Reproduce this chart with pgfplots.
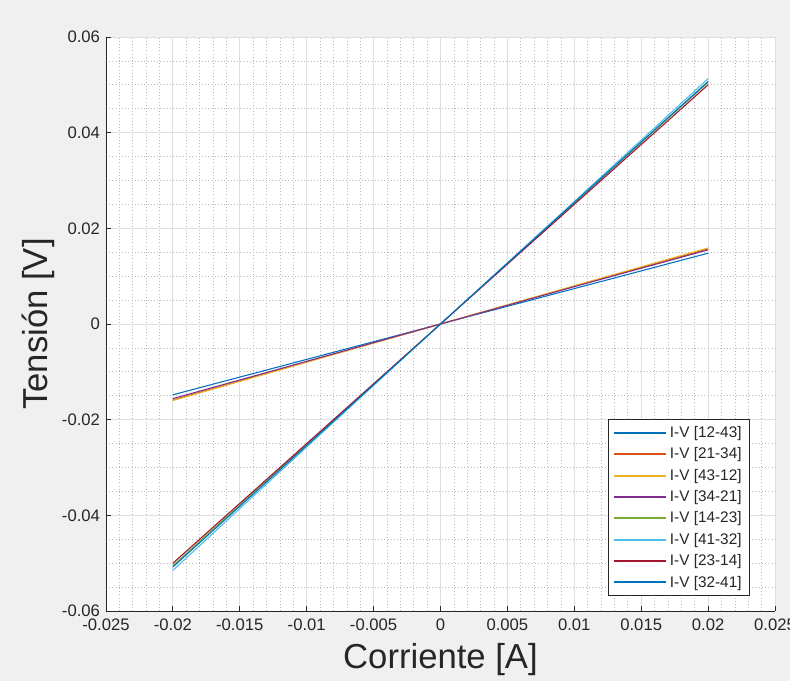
\documentclass[border=0pt]{standalone}
\usepackage{fontspec}
\setmainfont{Liberation Sans}
\usepackage{pgfplots}
\pgfplotsset{compat=1.18}

\definecolor{c1}{rgb}{0,0.447,0.741}
\definecolor{c2}{rgb}{0.85,0.325,0.098}
\definecolor{c3}{rgb}{0.929,0.694,0.125}
\definecolor{c4}{rgb}{0.494,0.184,0.556}
\definecolor{c5}{rgb}{0.466,0.674,0.188}
\definecolor{c6}{rgb}{0.301,0.745,0.933}
\definecolor{c7}{rgb}{0.635,0.078,0.184}
\definecolor{figbg}{RGB}{240,240,240}
\definecolor{axcol}{RGB}{38,38,38}
\definecolor{gridcol}{RGB}{223,223,223}

\begin{document}
\begin{tikzpicture}
% 1px = 0.75pt ; axes box 669x574 px at (106,37) in a 790x681 figure
\fill[figbg] (-79.5pt,-52.5pt) rectangle (513pt,458.25pt);
\begin{axis}[
    at={(0pt,0pt)}, anchor=south west,
    scale only axis, width=501.75pt, height=430.5pt,
    xmin=-0.025, xmax=0.025, ymin=-0.06, ymax=0.06,
    scaled ticks=false,
    axis background/.style={fill=white},
    axis x line*=bottom, axis y line*=left,
    axis line style={axcol, line width=0.6pt, -},
    tick align=inside, major tick length=3.75pt, minor tick length=0pt,
    tick style={axcol, line width=0.6pt},
    xtick={-0.025,-0.02,-0.015,-0.01,-0.005,0,0.005,0.01,0.015,0.02,0.025},
    xticklabels={-0.025,-0.02,-0.015,-0.01,-0.005,0,0.005,0.01,0.015,0.02,0.025},
    ytick={-0.06,-0.04,-0.02,0,0.02,0.04,0.06},
    yticklabels={-0.06,-0.04,-0.02,0,0.02,0.04,0.06},
    minor x tick num=4, minor y tick num=3,
    grid=both,
    major grid style={gridcol, line width=0.6pt},
    minor grid style={gray!55, dotted, line width=0.5pt},
    ticklabel style={font=\fontsize{12.5}{13}\selectfont, text=axcol},
    xticklabel style={yshift=-2pt},
    yticklabel style={xshift=-1pt},
    xlabel={Corriente [A]},
    ylabel={Tensión [V]},
    label style={font=\fontsize{26}{28}\selectfont, text=axcol},
    xlabel style={at={(axis description cs:0.5,-0.0854)}, anchor=center},
    ylabel style={at={(axis description cs:-0.1016,0.5)}, anchor=center},
    legend style={at={(0.9626,0.026)}, anchor=south east, draw=axcol,
        line width=0.6pt, font=\fontsize{11.5}{12}\selectfont, text=axcol,
        cells={anchor=west}, row sep=2.2pt, inner xsep=4pt, inner ysep=3pt},
    legend image code/.code={\draw[#1, line width=1.5pt] (0pt,0pt) -- (39pt,0pt);},
    every axis plot/.append style={line width=0.8pt},
    clip=false,
]
\addplot[c1] coordinates {(-0.02,-0.0148) (-0.01,-0.0074) (0,0) (0.01,0.0074) (0.02,0.0148)};
\addlegendentry{I-V [12-43]}
\addplot[c2] coordinates {(-0.02,-0.0159) (-0.01,-0.0079) (0,0) (0.01,0.0079) (0.02,0.0157)};
\addlegendentry{I-V [21-34]}
\addplot[c3] coordinates {(-0.02,-0.0160) (-0.01,-0.0080) (0,0) (0.01,0.0080) (0.02,0.0159)};
\addlegendentry{I-V [43-12]}
\addplot[c4] coordinates {(-0.02,-0.0156) (-0.01,-0.0078) (0,0) (0.01,0.0078) (0.02,0.0155)};
\addlegendentry{I-V [34-21]}
\addplot[c5] coordinates {(-0.02,-0.0505) (-0.01,-0.0252) (0,0) (0.01,0.0253) (0.02,0.0505)};
\addlegendentry{I-V [14-23]}
\addplot[c6] coordinates {(-0.02,-0.0515) (-0.01,-0.0257) (0,0) (0.01,0.0256) (0.02,0.0513)};
\addlegendentry{I-V [41-32]}
\addplot[c7] coordinates {(-0.02,-0.0500) (-0.01,-0.0250) (0,0) (0.01,0.0250) (0.02,0.0500)};
\addlegendentry{I-V [23-14]}
\addplot[c1] coordinates {(-0.02,-0.0508) (-0.01,-0.0254) (0,0) (0.01,0.0254) (0.02,0.0507)};
\addlegendentry{I-V [32-41]}
\end{axis}
\pgfresetboundingbox
\path[use as bounding box] (-79.5pt,-52.5pt) rectangle (513pt,458.25pt);
\end{tikzpicture}
\end{document}
